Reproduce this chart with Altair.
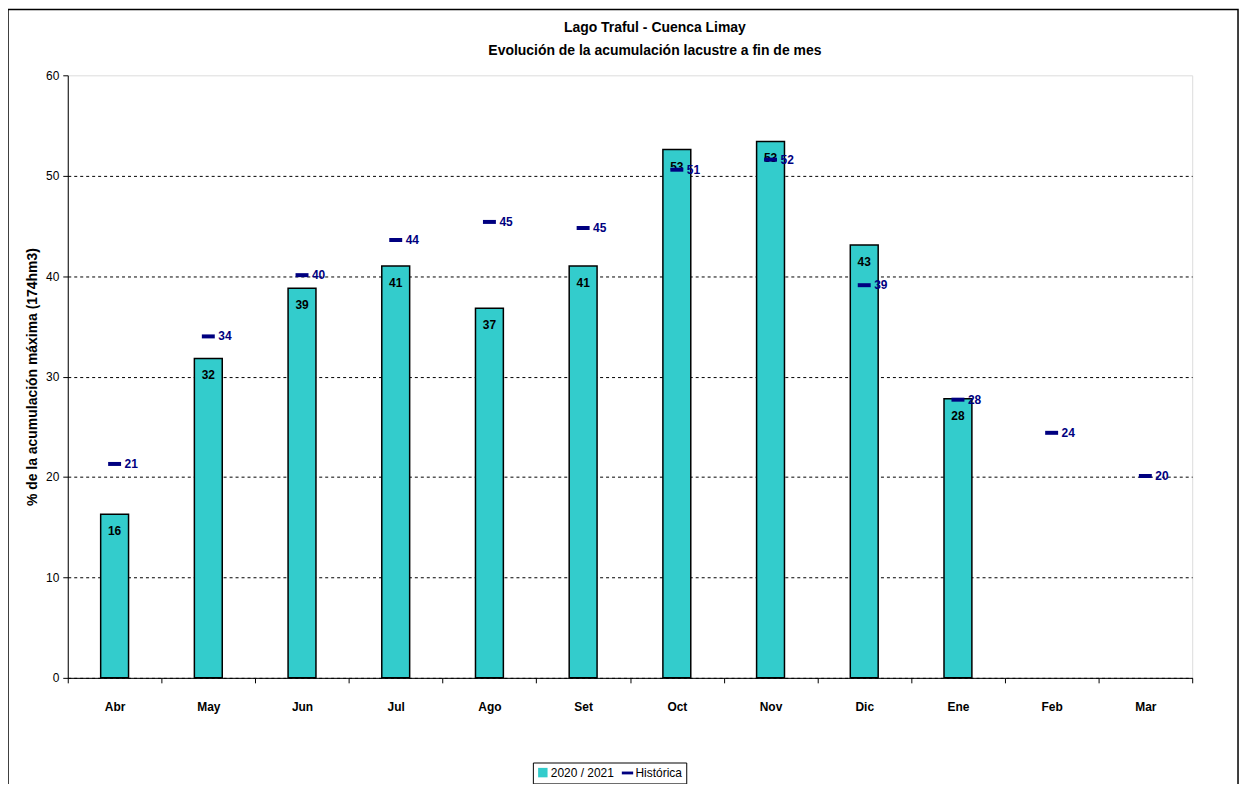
import altair as alt
import pandas as pd

months = ["Abr", "May", "Jun", "Jul", "Ago", "Set", "Oct", "Nov", "Dic", "Ene", "Feb", "Mar"]
actual_months = ["Abr", "May", "Jun", "Jul", "Ago", "Set", "Oct", "Nov", "Dic", "Ene"]
actual = [16.3, 31.8, 38.8, 41.0, 36.8, 41.0, 52.6, 53.4, 43.1, 27.8]
historica = [21.3, 34.0, 40.1, 43.6, 45.4, 44.8, 50.6, 51.6, 39.1, 27.7, 24.4, 20.1]
series = ["2020 / 2021", "Histórica"]

TEAL = "#33CCCC"
NAVY = "#000080"
FONT = "'Liberation Sans Narrow', 'Liberation Sans', Arial, sans-serif"

df_a = pd.DataFrame({"mes": actual_months, "valor": actual})
df_h = pd.DataFrame({"mes": months, "valor": historica})
df_s = pd.DataFrame({"serie": series})

xscale = alt.Scale(domain=months, paddingInner=0, paddingOuter=0)
yscale = alt.Scale(domain=[0, 60])

x_enc = alt.X(
    "mes:N", scale=xscale, sort=months, title=None,
    axis=alt.Axis(tickBand="extent", tickSize=5, labelFontWeight="bold",
                  labelFontSize=12, labelPadding=19, labelAngle=0,
                  domainColor="black", tickColor="black", labelColor="black",
                  labelFont=FONT, grid=False),
)
y_enc = alt.Y(
    "valor:Q", scale=yscale, title="% de la acumulación máxima (174hm3)",
    axis=alt.Axis(values=[0, 10, 20, 30, 40, 50, 60], tickSize=5,
                  labelFontSize=12, labelPadding=4, labelColor="black",
                  labelFont=FONT, domainColor="black", tickColor="black",
                  grid=True, gridColor="black", gridDash=[3, 3],
                  gridOpacity={"condition": {"test": "datum.value === 60", "value": 0}, "value": 1},
                  titleFont=FONT, titleFontSize=14, titleFontWeight="bold",
                  titleColor="black", titlePadding=6),
)

bars = alt.Chart(df_a).mark_bar(size=28, color=TEAL, stroke="black", strokeWidth=1.5).encode(
    x=x_enc, y=y_enc
)
bar_labels = alt.Chart(df_a).mark_text(
    baseline="middle", dy=17, font=FONT, fontSize=12, fontWeight="bold", color="black"
).encode(x=alt.X("mes:N", scale=xscale, sort=months), y=alt.Y("valor:Q", scale=yscale),
         text=alt.Text("valor:Q", format=".0f"))

ticks = alt.Chart(df_h).mark_tick(size=13, thickness=4, color=NAVY, opacity=1,
                                  orient="horizontal").encode(
    x=alt.X("mes:N", scale=xscale, sort=months), y=alt.Y("valor:Q", scale=yscale)
)
hist_labels = alt.Chart(df_h).mark_text(
    align="left", baseline="middle", dx=10, font=FONT, fontSize=12, fontWeight="bold", color=NAVY
).encode(x=alt.X("mes:N", scale=xscale, sort=months), y=alt.Y("valor:Q", scale=yscale),
         text=alt.Text("valor:Q", format=".0f"))

legend_props = dict(
    title=None, orient="none", legendX=467, legendY=690, direction="horizontal",
    strokeColor="black", fillColor="white", padding=4, labelFont=FONT, labelFontSize=12,
    labelColor="black", symbolSize=90, symbolOpacity=1, symbolStrokeColor="black",
    symbolStrokeWidth=1, columnPadding=5, labelOffset=2,
)
legend_layer = alt.Chart(df_s).mark_point(filled=True, opacity=0).encode(
    color=alt.Color("serie:N", scale=alt.Scale(domain=series, range=[TEAL, NAVY]),
                    legend=alt.Legend(**legend_props)),
    shape=alt.Shape("serie:N", scale=alt.Scale(domain=series,
                    range=["M-1,-1H1V1H-1Z", "M-1.2,-0.3H1.2V0.3H-1.2Z"]),
                    legend=alt.Legend(**legend_props)),
)

frame = alt.Chart(pd.DataFrame({"f": [0]})).mark_rect(
    fillOpacity=0, stroke="black", strokeWidth=1.5
).encode(x=alt.value(-60), x2=alt.value(1175), y=alt.value(-66), y2=alt.value(740))

chart = alt.layer(frame, bars, bar_labels, ticks, hist_labels, legend_layer).properties(
    width=1129, height=605,
    title=alt.TitleParams(
        ["Lago Traful - Cuenca Limay", "Evolución de la acumulación lacustre a fin de mes"],
        font=FONT, fontSize=14, fontWeight="bold", color="black", anchor="middle",
        dx=25, offset=-49, lineHeight=23,
    ),
    padding={"left": 60, "top": 66, "right": 50, "bottom": 105},
    autosize=alt.AutoSizeParams(type="none"),
).configure_view(stroke="#808080", strokeWidth=1).configure(background="white")

chart.save("out.html", embed_options={"renderer": "svg", "actions": False})
